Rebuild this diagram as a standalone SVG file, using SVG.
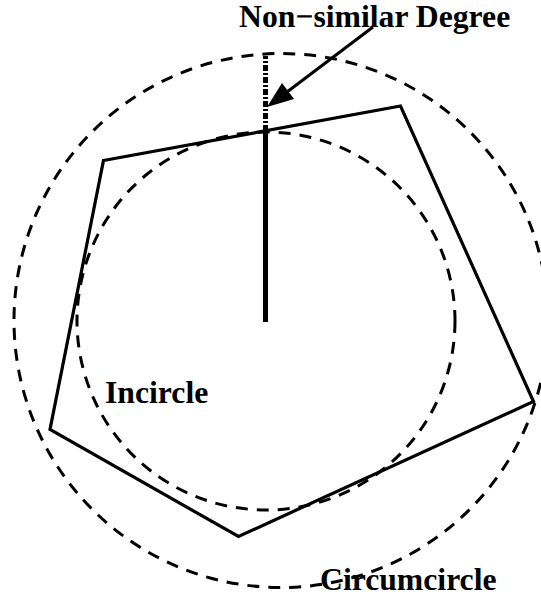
<svg xmlns="http://www.w3.org/2000/svg" width="541" height="598" viewBox="0 0 541 598">
<style>
.dash{fill:none;stroke:#000;stroke-width:3;stroke-dasharray:12,9}
.solid{fill:none;stroke:#000;stroke-width:3.2;stroke-linejoin:miter}
.lbl{font-family:"Liberation Serif","Times New Roman",serif;font-weight:bold;font-size:31.7px;fill:#000}
</style>
<rect width="541" height="598" fill="#fff"/>
<g id="circumcircle">
<circle class="dash" cx="281" cy="320.5" r="267"/>
</g>
<g id="incircle">
<circle class="dash" cx="266" cy="321" r="189"/>
</g>
<g id="pentagon">
<polygon class="solid" points="103.5,160.5 400.5,106 533.5,401.5 238.5,536.5 50,429.5"/>
</g>
<g id="connectors">
<line x1="265.5" y1="322" x2="265.5" y2="131" stroke="#000" stroke-width="5"/>
<line x1="265.5" y1="131" x2="265.5" y2="56" stroke="#000" stroke-width="5" stroke-dasharray="6,2,2,2"/>
<line x1="373" y1="27" x2="285" y2="93.5" stroke="#000" stroke-width="3"/>
<polygon points="267,107 294,99 282,83" fill="#000"/>
</g>
<g id="label-nonsimilar">
<text class="lbl" x="239" y="27">Non−similar Degree</text>
</g>
<g id="label-incircle">
<text class="lbl" x="105" y="403">Incircle</text>
</g>
<g id="label-circumcircle">
<text class="lbl" x="320" y="590">Circumcircle</text>
</g>
</svg>
